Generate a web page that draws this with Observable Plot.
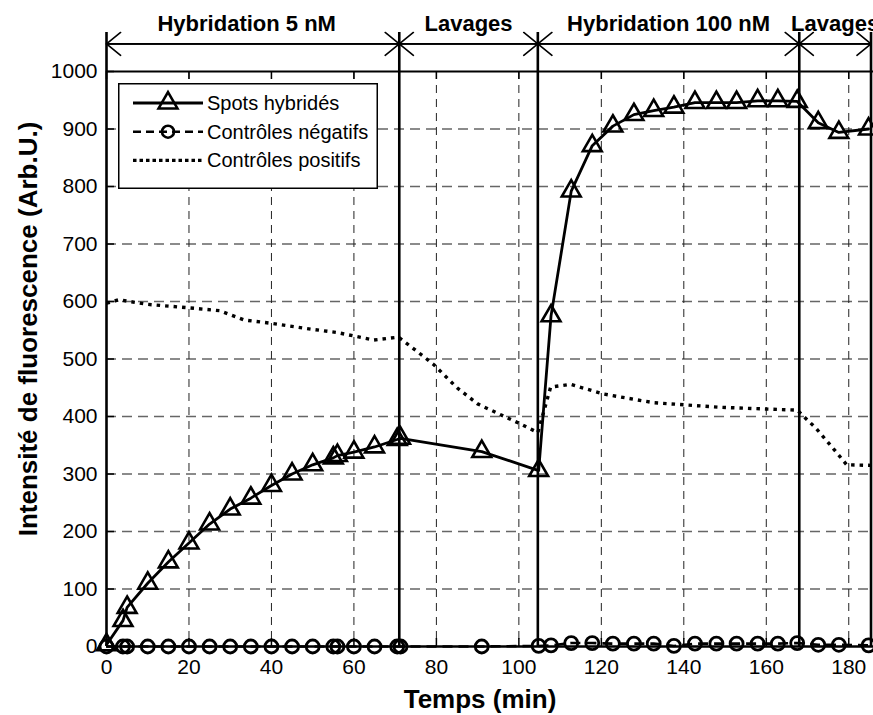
<!DOCTYPE html>
<html><head><meta charset="utf-8">
<script src="https://cdn.jsdelivr.net/npm/d3@7"></script>
<script src="https://cdn.jsdelivr.net/npm/@observablehq/plot@0.6"></script>
<style>
body{margin:0;background:#fff;font-family:"Liberation Sans",Arial,Helvetica,sans-serif;}
#wrap{position:relative;width:873px;height:715px;overflow:hidden;background:#fff;}
#legend{position:absolute;left:118px;top:83px;}
</style></head><body><div id="wrap"></div>
<script>
// Axis ticks
const xTicks = [0, 20, 40, 60, 80, 100, 120, 140, 160, 180];
const yTicks = [0, 100, 200, 300, 400, 500, 600, 700, 800, 900, 1000];

// Spots hybridés (triangles)
const spotsTime  = [0, 4, 5, 10, 15, 20, 25, 30, 35, 40, 45, 50, 55, 56, 60, 65, 70.5, 71.3, 91, 104.8, 107.8, 112.7, 117.8, 122.8, 127.9, 132.7, 137.6, 142.7, 147.9, 152.8, 157.9, 162.8, 167.5, 172.6, 177.6, 184.8];
const spotsValue = [3, 45, 68, 110, 147, 180, 213, 239, 258, 280, 300, 316, 328, 332, 338, 347, 360, 362, 339, 306, 575, 792, 871, 905, 925, 932, 938, 946, 946, 946, 949, 949, 948, 911, 894, 900];

// Contrôles négatifs (circles)
const negTime  = [0, 4, 5, 10, 15, 20, 25, 30, 35, 40, 45, 50, 55, 56, 60, 65, 70.5, 71.3, 91, 104.8, 107.8, 112.7, 117.8, 122.8, 127.9, 132.7, 137.6, 142.7, 147.9, 152.8, 157.9, 162.8, 167.5, 172.6, 177.6, 184.8];
const negValue = [0, 0, 0, 0, 0, 0, 0, 0, 0, 0, 0, 0, 0, 0, 0, 0, 0, 0, 0, 1, 2, 6, 6, 5, 5, 5, 1, 5, 5, 5, 5, 5, 6, 3, 3, 2];

// Contrôles positifs (dotted line)
const posTime  = [0, 3, 10, 20, 27.5, 33.3, 40, 49.5, 56, 60, 64.8, 70.8, 75, 79.4, 85, 90, 95, 100.4, 104.6, 107.7, 112.5, 120.6, 132.7, 148.9, 167.5, 172, 176.4, 179.5, 185.5];
const posValue = [597, 603, 595, 589, 584, 568, 562, 552, 546, 540, 533, 538, 515, 490, 450, 422, 405, 387, 372, 451, 456, 439, 424, 416, 411, 380, 343, 316, 315];

// Phases (annotation above the chart)
const phaseBounds = [0, 71, 104.6, 168, 185.4];
const phaseNames  = ["Hybridation 5 nM", "Lavages", "Hybridation 100 nM", "Lavages"];
const phaseLabelX = [34, 87.8, 136.3, 176.7];
const annotationLevels = {label: 1082, arrow: 1048, top: 1068};

const legendNames = ["Spots hybridés", "Contrôles négatifs", "Contrôles positifs"];
const xLabel = "Temps (min)";
const yLabel = "Intensité de fluorescence (Arb.U.)";

const spots = spotsTime.map((t, i) => ({t, v: spotsValue[i]}));
const neg = negTime.map((t, i) => ({t, v: negValue[i]}));
const pos = posTime.map((t, i) => ({t, v: posValue[i]}));
const segments = phaseNames.map((name, i) => ({x1: phaseBounds[i], x2: phaseBounds[i + 1], name, lx: phaseLabelX[i]}));

const W = 873, H = 715, mL = 106, mR = 0, mT = 71, mB = 69;
const frameW = W - mL - mR, frameH = H - mT - mB;
const font = "'Liberation Sans', Arial, Helvetica, sans-serif";

const chart = Plot.plot({
  width: W, height: H,
  marginLeft: mL, marginRight: mR, marginTop: mT, marginBottom: mB,
  x: {domain: [0, 186]},
  y: {domain: [0, 1000]},
  style: {background: "#fff", fontFamily: font, fontSize: "21px", color: "#000"},
  marks: [
    Plot.gridY({ticks: yTicks.slice(1, -1), stroke: "#666", strokeOpacity: 1, strokeWidth: 1.3, strokeDasharray: "10,6"}),
    Plot.gridX({ticks: xTicks.slice(1), stroke: "#222", strokeOpacity: 1, strokeWidth: 1, strokeDasharray: "8,6"}),
    Plot.tickX(xTicks, {x: d => d, insetTop: frameH - 8, strokeWidth: 1.5}),
    Plot.tickX(xTicks, {x: d => d, insetBottom: frameH - 8, strokeWidth: 1.5}),
    Plot.tickY(yTicks, {y: d => d, insetRight: frameW - 8, strokeWidth: 1.5}),
    Plot.ruleY([1000], {strokeWidth: 2}),
    Plot.ruleY([0], {strokeWidth: 2.6}),
    Plot.ruleX(phaseBounds, {x: d => d, y1: 0, y2: annotationLevels.top, strokeWidth: 2.6}),
    Plot.arrow(segments, {x1: "x1", x2: "x2", y1: annotationLevels.arrow, y2: annotationLevels.arrow, headLength: 17, headAngle: 78, strokeWidth: 1.6}),
    Plot.arrow(segments, {x1: "x2", x2: "x1", y1: annotationLevels.arrow, y2: annotationLevels.arrow, headLength: 17, headAngle: 78, strokeWidth: 1.6}),
    Plot.text(segments, {x: "lx", y: annotationLevels.label, text: "name", fontWeight: "bold", fontSize: 22}),
    Plot.line(pos, {x: "t", y: "v", stroke: "#000", strokeWidth: 3.4, strokeDasharray: "3.5,5", strokeLinecap: "butt"}),
    Plot.line(neg, {x: "t", y: "v", stroke: "#000", strokeWidth: 2.6, strokeDasharray: "10,6", strokeLinecap: "butt"}),
    Plot.dot(neg, {x: "t", y: "v", symbol: "circle", r: 6.5, stroke: "#000", strokeWidth: 2.8, fill: "none"}),
    Plot.line(spots, {x: "t", y: "v", stroke: "#000", strokeWidth: 2.8}),
    Plot.dot(spots, {x: "t", y: "v", symbol: "triangle", r: 7, stroke: "#000", strokeWidth: 2.6, fill: "none"}),
    Plot.axisX({ticks: xTicks, tickSize: 0, tickPadding: 13, label: null, fontSize: 21}),
    Plot.axisY({ticks: yTicks, tickSize: 0, tickPadding: 9, label: null, fontSize: 21, tickFormat: d => String(d)}),
    Plot.text([xLabel], {frameAnchor: "bottom", dx: -10, dy: 53, lineAnchor: "middle", textAnchor: "middle", fontWeight: "bold", fontSize: 26}),
    Plot.text([yLabel], {frameAnchor: "left", rotate: -90, dx: -78, dy: -30, lineAnchor: "middle", textAnchor: "middle", fontWeight: "bold", fontSize: 26})
  ]
});
document.getElementById("wrap").appendChild(chart);

// Legend (inside the plot area, top-left)
const lw = 260, lh = 106;
const leg = d3.select("#wrap").append("div").attr("id", "legend")
  .append("svg").attr("width", lw).attr("height", lh).style("display", "block");
leg.append("rect").attr("x", 0.75).attr("y", 0.75).attr("width", lw - 1.5).attr("height", lh - 1.5)
  .attr("fill", "#fff").attr("stroke", "#000").attr("stroke-width", 1.5);
const rowY = i => 20 + i * 28.7;
const styles = [
  {dash: null, w: 2.8, sym: d3.symbolTriangle},
  {dash: "8,5", w: 2.6, sym: d3.symbolCircle},
  {dash: "3.5,3", w: 3.4, sym: null}
];
legendNames.forEach((name, i) => {
  const s = styles[i], y = rowY(i);
  const ln = leg.append("line").attr("x1", 15).attr("x2", 85).attr("y1", y).attr("y2", y)
    .attr("stroke", "#000").attr("stroke-width", s.w);
  if (s.dash) ln.attr("stroke-dasharray", s.dash);
  if (s.sym) {
    const r = i === 0 ? 7 : 6;
    leg.append("path").attr("d", d3.symbol(s.sym, Math.PI * r * r)())
      .attr("transform", `translate(50,${y})`).attr("fill", "none")
      .attr("stroke", "#000").attr("stroke-width", 2.6);
  }
  leg.append("text").attr("x", 89).attr("y", y).attr("dy", "0.35em")
    .attr("font-family", font).attr("font-size", 20).text(name);
});
</script>
</body></html>
